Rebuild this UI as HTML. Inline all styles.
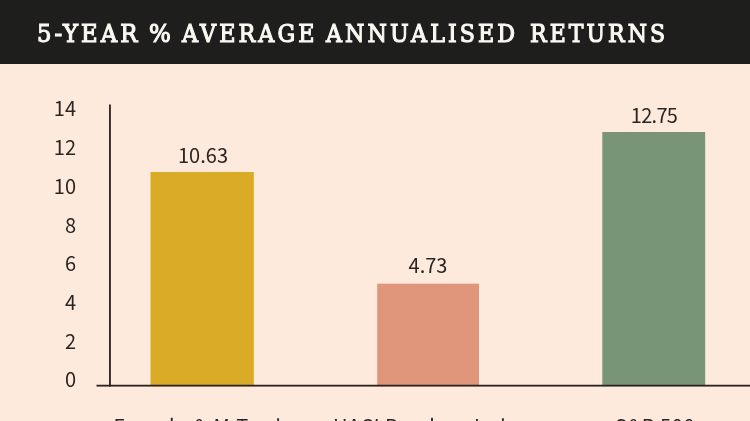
<!DOCTYPE html>
<html lang="en">
<head>
<meta charset="utf-8">
<title>5-Year % Average Annualised Returns</title>
<style>
  html, body { margin: 0; padding: 0; }
  body { width: 750px; height: 421px; overflow: hidden; background: #fdeadd; position: relative;
         font-family: "Noto Sans CJK JP", "Liberation Sans", sans-serif; color: #2b2421; }
  .hdr { position: absolute; left: 0; top: 0; width: 750px; height: 64px; background: #1e1e1d; }
  .title { position: absolute; left: 0; top: 15.6px; margin: 0; width: 750px; height: 36px;
           font-family: "DejaVu Serif", "Liberation Serif", serif; font-weight: normal;
           font-size: 25px; line-height: 36px; letter-spacing: 3.46px; color: #fbf8f2;
           -webkit-text-stroke: 1.2px #fbf8f2; }
  .title span { position: absolute; top: 0; white-space: nowrap; transform-origin: 0 50%; }
  .tick { position: absolute; left: 30px; width: 46px; text-align: right; font-size: 20px; line-height: 20px; height: 20px; }
  .plot { position: absolute; left: 0; top: 0; }
  .val { position: absolute; width: 120px; text-align: center; font-size: 20px; line-height: 20px; height: 20px; }
  .lab { position: absolute; top: 416px; font-size: 20px; line-height: 20px; height: 20px; white-space: nowrap; }
</style>
</head>
<body>
  <div class="hdr"><h1 class="title"><span style="left:37.3px;transform:scaleX(0.909)">5-YEAR </span><span style="left:148.6px;transform:scaleX(0.918)">% </span><span style="left:181.8px;transform:scaleX(0.889)">AVERAGE </span><span style="left:326.4px;transform:scaleX(0.887)">ANNUALISED </span><span style="left:529.8px;transform:scaleX(0.881)">RETURNS</span></h1></div>

  <div class="tick" style="top:98px">14</div>
  <div class="tick" style="top:137px">12</div>
  <div class="tick" style="top:176px">10</div>
  <div class="tick" style="top:215px">8</div>
  <div class="tick" style="top:253px">6</div>
  <div class="tick" style="top:292px">4</div>
  <div class="tick" style="top:331px">2</div>
  <div class="tick" style="top:369px">0</div>


  <svg class="plot" width="750" height="421" viewBox="0 0 750 421" aria-hidden="true">
    <rect x="150.5" y="172" width="103.3" height="213.6" fill="#d9ab27"/>
    <rect x="377.2" y="283.7" width="101.8" height="101.9" fill="#df967a"/>
    <rect x="602.3" y="132" width="102.9" height="253.6" fill="#789677"/>
    <rect x="109.05" y="104.5" width="1.8" height="282.05" fill="#2b201c"/>
    <rect x="96.5" y="384.75" width="653.5" height="1.8" fill="#2b201c"/>
  </svg>
  <div class="val" style="left:143px;top:145px">10.63</div>
  <div class="val" style="left:368px;top:255px">4.73</div>
  <div class="val" style="left:594px;top:105px;letter-spacing:-0.7px">12.75</div>


  <div class="lab" style="left:113.5px;letter-spacing:1px">Female &amp; M Traders</div>
  <div class="lab" style="left:333px;letter-spacing:0.5px">HACI Barclay <span style="margin-left:11px">Index</span></div>
  <div class="lab" style="left:615px;letter-spacing:0.6px">S&amp;P 500</div>
</body>
</html>
